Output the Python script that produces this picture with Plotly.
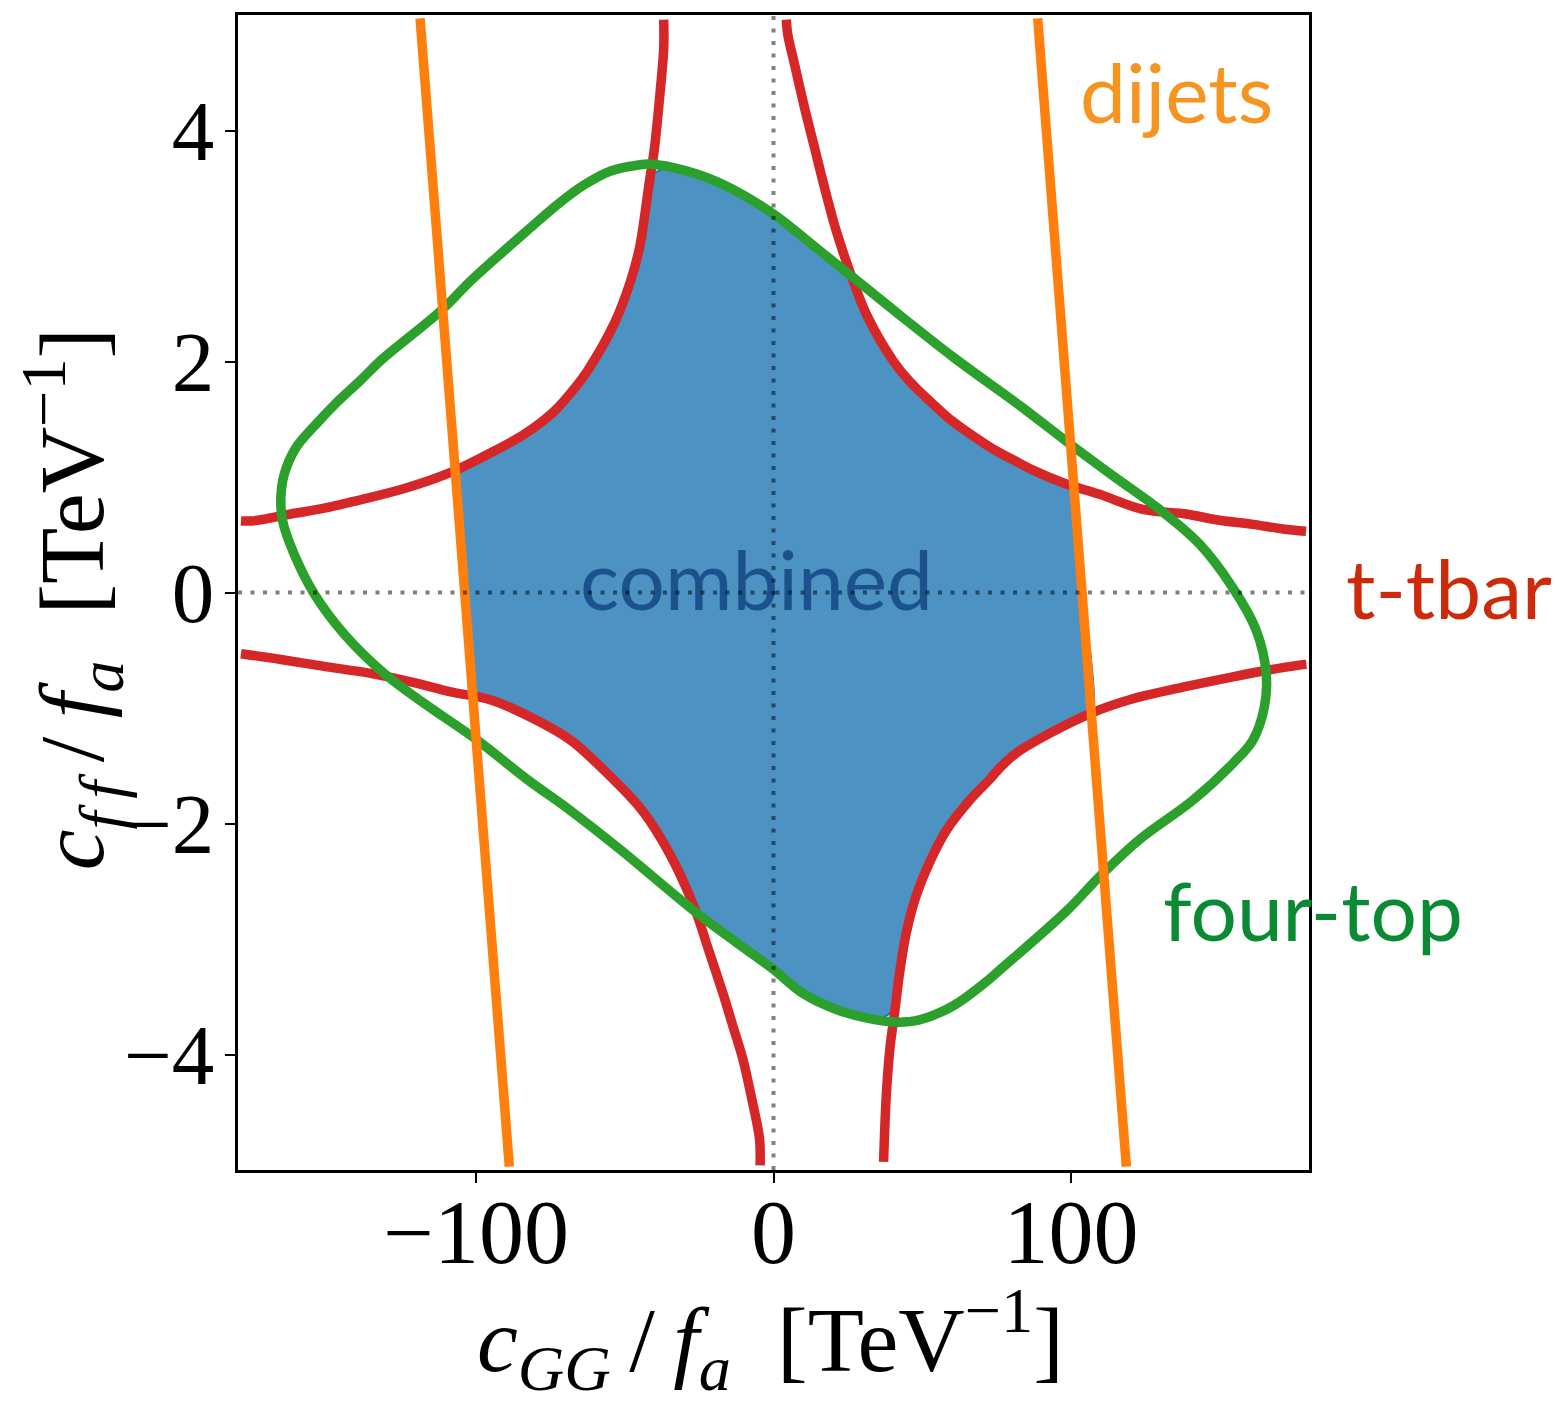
import plotly.graph_objects as go

# ---- axes ----
x_range = [-180, 180]
y_range = [-5, 5]
x_ticks = [-100, 0, 100]
y_ticks = [-4, -2, 0, 2, 4]

# ---- dijets (orange lines) ----
dijet_left_x = [-118.8, -103.6, -88.8]
dijet_left_y = [4.97, 0.0, -4.97]
dijet_right_x = [88.8, 104.0, 118.6]
dijet_right_y = [4.97, 0.0, -4.97]

# ---- t-tbar (red branches) ----
ttbar_ul_x = [-179.0, -174.6, -162.3, -151.0, -137.6, -124.1, -108.5, -95.0, -83.8, -73.7,
              -65.9, -62.5, -53.5, -48.0, -45.0, -41.7, -40.0, -38.3, -36.9, -36.9]
ttbar_ul_y = [0.62, 0.62, 0.68, 0.73, 0.81, 0.90, 1.04, 1.21, 1.37, 1.57,
              1.80, 1.92, 2.33, 2.70, 2.99, 3.56, 3.85, 4.28, 4.71, 4.96]

ttbar_ur_x = [4.3, 4.8, 7.1, 10.4, 13.8, 17.1, 21.1, 25.5, 31.2, 40.1, 45.7, 55.8, 60.3,
              71.5, 76.0, 82.7, 87.2, 98.4, 109.6, 124.1, 138.7, 148.8, 161.1, 171.2, 179.0]
ttbar_ur_y = [4.96, 4.83, 4.57, 4.20, 3.85, 3.51, 3.13, 2.79, 2.41, 2.01, 1.83, 1.58, 1.48,
              1.28, 1.21, 1.12, 1.06, 0.94, 0.85, 0.72, 0.68, 0.63, 0.59, 0.55, 0.53]

ttbar_lr_x = [179.1, 171.2, 154.4, 137.6, 120.8, 106.2, 92.8, 81.6, 76.0, 72.6, 65.9, 58.1,
              52.4, 47.9, 44.6, 42.4, 40.7, 39.2, 37.9, 37.0]
ttbar_lr_y = [-0.62, -0.65, -0.73, -0.82, -0.92, -1.05, -1.22, -1.39, -1.52, -1.62, -1.80, -2.06,
              -2.34, -2.63, -2.95, -3.29, -3.64, -3.93, -4.36, -4.93]

ttbar_ll_x = [-179.0, -165.6, -151.0, -135.4, -120.8, -108.5, -95.0, -81.6, -68.1, -56.9,
              -45.0, -38.3, -31.6, -26.0, -21.5, -17.0, -13.7, -10.3, -7.5, -4.7, -4.5]
ttbar_ll_y = [-0.53, -0.58, -0.64, -0.70, -0.78, -0.86, -0.93, -1.08, -1.28, -1.54,
              -1.86, -2.11, -2.43, -2.77, -3.12, -3.47, -3.75, -4.04, -4.36, -4.73, -4.96]

# ---- four-top (green closed contour) ----
fourtop_x = [-165.6, -164.5, -160.6, -153.3, -146.6, -138.7, -132.0, -111.8, -101.7, -90.5,
             -81.6, -72.6, -63.6, -54.7, -45.7, -41.7, -29.3, -15.9, -0.2, 15.5,
             26.7, 43.5, 60.3, 82.7, 98.4, 115.2, 129.7, 143.2, 154.4, 162.3,
             165.6, 165.0, 161.1, 154.4, 140.9, 123.0, 109.6, 98.4, 76.0, 71.5,
             60.3, 49.1, 41.2, 32.3, 21.1, 9.8, -0.2, -12.5, -26.0, -40.6,
             -51.8, -69.2, -82.7, -99.5, -117.4, -130.9, -144.3, -154.4, -161.1, -165.0, -165.6]
fourtop_y = [0.82, 1.02, 1.25, 1.47, 1.65, 1.84, 2.01, 2.44, 2.70, 2.96,
             3.16, 3.36, 3.53, 3.65, 3.70, 3.71, 3.65, 3.52, 3.28, 2.96,
             2.73, 2.38, 2.04, 1.62, 1.31, 0.99, 0.72, 0.42, 0.04, -0.33,
             -0.70, -0.99, -1.28, -1.48, -1.80, -2.14, -2.46, -2.76, -3.27, -3.37,
             -3.58, -3.70, -3.72, -3.69, -3.61, -3.47, -3.26, -3.03, -2.77, -2.46,
             -2.22, -1.87, -1.62, -1.28, -0.96, -0.70, -0.36, -0.01, 0.33, 0.62, 0.82]

# ---- combined (blue allowed region boundary) ----
combined_x = [-106.5, -95.0, -83.8, -73.7, -65.9, -62.5, -53.5, -48.0, -45.0, -42.5, -40.5, -37.0,
              -29.3, -15.9, -0.2, 15.5, 25.8,
              31.2, 40.1, 45.7, 55.8, 60.3, 71.5, 82.7, 87.2, 98.4, 101.2,
              104.0, 107.2,
              92.8, 81.6, 72.6, 65.9, 58.1, 52.4, 47.9, 44.6, 42.4, 40.9, 37.5,
              32.3, 21.1, 9.8, -0.2, -12.5, -26.0,
              -31.6, -38.3, -45.0, -56.9, -68.1, -81.6, -95.0, -100.9,
              -103.6, -106.5]
combined_y = [1.06, 1.21, 1.37, 1.57, 1.80, 1.92, 2.33, 2.70, 2.99, 3.40, 3.62, 3.67,
              3.65, 3.52, 3.28, 2.96, 2.75,
              2.41, 2.01, 1.83, 1.58, 1.48, 1.28, 1.12, 1.06, 0.94, 0.92,
              0.0, -1.06,
              -1.22, -1.39, -1.62, -1.80, -2.06, -2.34, -2.63, -2.95, -3.29, -3.60, -3.67,
              -3.69, -3.61, -3.47, -3.26, -3.03, -2.77,
              -2.43, -2.11, -1.86, -1.54, -1.28, -1.08, -0.93, -0.90,
              0.0, 1.06]

RED = "#d62728"
GREEN = "#2ca02c"
ORANGE = "#ff7f0e"
LW = 9.5
SERIF = "Liberation Serif, Times New Roman, serif"
SANS = "Lato, Noto Sans, sans-serif"

fig = go.Figure()

fig.add_trace(go.Scatter(x=combined_x, y=combined_y, mode="lines", fill="toself",
                         fillcolor="rgba(31,119,180,0.8)",
                         line=dict(color="#1f77b4", width=2, shape="spline", smoothing=0.5),
                         hoverinfo="skip", showlegend=False))

for bx, by in [(ttbar_ul_x, ttbar_ul_y), (ttbar_ur_x, ttbar_ur_y),
               (ttbar_lr_x, ttbar_lr_y), (ttbar_ll_x, ttbar_ll_y)]:
    fig.add_trace(go.Scatter(x=bx, y=by, mode="lines",
                             line=dict(color=RED, width=LW, shape="spline", smoothing=0.9),
                             hoverinfo="skip", showlegend=False))

fig.add_trace(go.Scatter(x=fourtop_x, y=fourtop_y, mode="lines",
                         line=dict(color=GREEN, width=LW, shape="spline", smoothing=1.0),
                         hoverinfo="skip", showlegend=False))

for bx, by in [(dijet_left_x, dijet_left_y), (dijet_right_x, dijet_right_y)]:
    fig.add_trace(go.Scatter(x=bx, y=by, mode="lines",
                             line=dict(color=ORANGE, width=LW),
                             hoverinfo="skip", showlegend=False))

fig.add_trace(go.Scatter(x=[-5.7], y=[0.03], mode="text", text=["combined"],
                         textfont=dict(family=SANS, size=82, color="#1b528e"),
                         textposition="middle center", hoverinfo="skip", showlegend=False))

# dotted reference lines
fig.add_trace(go.Scatter(x=[0, 0], y=y_range, mode="lines",
                         line=dict(color="rgba(0,0,0,0.5)", width=4, dash="4px,8.5px"),
                         hoverinfo="skip", showlegend=False))
fig.add_trace(go.Scatter(x=x_range, y=[0, 0], mode="lines",
                         line=dict(color="rgba(0,0,0,0.5)", width=4, dash="4px,8.5px"),
                         hoverinfo="skip", showlegend=False))

TS = "\u2009"
annotations = [
    dict(x=135.6, y=4.34, xref="x", yref="y", text="dijets", showarrow=False,
         font=dict(family=SANS, size=82, color="#f5941e"), xanchor="center", yanchor="middle"),
    dict(x=1.131, y=0.505, xref="paper", yref="paper", text="t-tbar", showarrow=False,
         font=dict(family=SANS, size=82, color="#cc2a0a"), xanchor="center", yanchor="middle"),
    dict(x=1.004, y=0.226, xref="paper", yref="paper", text="four-top", showarrow=False,
         font=dict(family=SANS, size=82, color="#0a8a32"), xanchor="center", yanchor="middle"),
    dict(x=0.497, y=-0.147, xref="paper", yref="paper",
         text=f"<i>c</i><sub><i>GG</i></sub>{TS}/{TS}<i>f</i><sub><i>a</i></sub>  [TeV<sup>−1</sup>]",
         showarrow=False, font=dict(family=SERIF, size=92, color="black"),
         xanchor="center", yanchor="middle"),
    dict(x=-0.155, y=0.495, xref="paper", yref="paper", textangle=-90,
         text=f"<i>c</i><sub><i>f{TS}f</i></sub>{TS}/{TS}<i>f</i><sub><i>a</i></sub>  [TeV<sup>−1</sup>]",
         showarrow=False, font=dict(family=SERIF, size=92, color="black"),
         xanchor="center", yanchor="middle"),
]

fig.update_layout(
    width=1555, height=1401,
    margin=dict(l=238, r=246, t=12, b=231),
    plot_bgcolor="white", paper_bgcolor="white",
    annotations=annotations,
    showlegend=False,
)
fig.update_xaxes(range=x_range, tickvals=x_ticks, showgrid=False, zeroline=False,
                 showline=True, linecolor="black", linewidth=2.5, mirror=True,
                 ticks="outside", ticklen=10, tickwidth=2, tickcolor="black",
                 ticklabelstandoff=-28,
                 tickfont=dict(family=SERIF, size=90, color="black"))
fig.update_yaxes(range=y_range, tickvals=y_ticks, showgrid=False, zeroline=False,
                 showline=True, linecolor="black", linewidth=2.5, mirror=True,
                 ticks="outside", ticklen=10, tickwidth=2, tickcolor="black",
                 ticklabelstandoff=-6,
                 tickfont=dict(family=SERIF, size=85, color="black"))

fig.write_html("out.html", config={"displayModeBar": False},
               post_script="document.body.style.margin='0';document.body.style.overflow='hidden';")
